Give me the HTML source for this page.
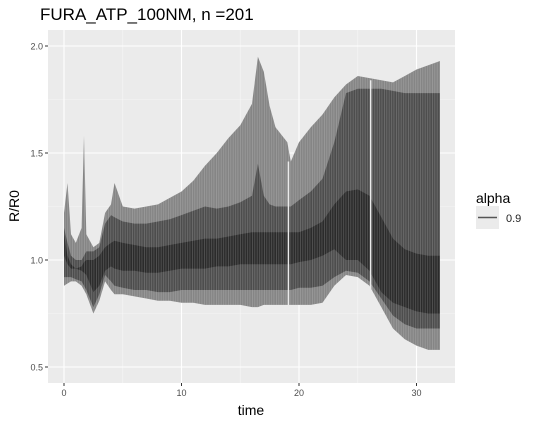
<!DOCTYPE html>
<html><head><meta charset="utf-8"><style>
body{margin:0;background:#fff;}
svg{display:block;font-family:"Liberation Sans",sans-serif;}
</style></head><body>
<svg id="chart" width="538" height="425" viewBox="0 0 538 425" xmlns="http://www.w3.org/2000/svg">
<text x="40" y="20" font-size="17" fill="#000">FURA_ATP_100NM, n =201</text>
<rect x="48" y="30" width="407" height="353" fill="#ebebeb"/>
<g id="grid"></g>
<g id="areas"></g>
<g id="axes"></g>
<text x="251" y="415" font-size="14" text-anchor="middle">time</text>
<text transform="translate(19,206) rotate(-90)" font-size="14" text-anchor="middle">R/R0</text>
<g>
<text x="476" y="203" font-size="14">alpha</text>
<rect x="476" y="206" width="23" height="23" fill="#ebebeb"/>
<line x1="478" y1="217.5" x2="497" y2="217.5" stroke="#555" stroke-width="1.5"/>
<text x="506" y="222" font-size="11" fill="#222">0.9</text>
</g>
</svg>
<script>
const times=[0,0.3,0.6,1,1.5,1.7,1.9,2.5,3,3.5,4,4.3,5,6,7,8,9,10,11,12,13,14,15,16,16.5,17,17.5,18,19,19.3,20,21,22,23,24,25,26,27,28,29,30,31,32];
const maxVals=[1.22,1.36,1.12,1.08,1.15,1.58,1.12,1.06,1.08,1.22,1.26,1.36,1.25,1.24,1.25,1.26,1.29,1.32,1.37,1.44,1.50,1.57,1.63,1.73,1.95,1.88,1.72,1.62,1.55,1.46,1.55,1.62,1.68,1.76,1.82,1.86,1.85,1.84,1.83,1.86,1.89,1.91,1.93];
const midTop=[1.15,1.08,1.02,1.0,1.0,1.02,1.04,1.04,1.06,1.17,1.21,1.2,1.18,1.17,1.17,1.18,1.19,1.21,1.23,1.25,1.24,1.25,1.27,1.30,1.45,1.30,1.26,1.25,1.25,1.25,1.28,1.32,1.38,1.55,1.78,1.80,1.80,1.80,1.79,1.78,1.78,1.78,1.78];
const innerTop=[1.12,1.02,0.98,0.96,0.97,0.99,1.0,1.0,1.02,1.06,1.08,1.09,1.08,1.07,1.06,1.06,1.07,1.08,1.09,1.10,1.10,1.11,1.12,1.13,1.13,1.13,1.13,1.13,1.13,1.13,1.13,1.15,1.18,1.26,1.32,1.33,1.30,1.20,1.10,1.05,1.03,1.02,1.02];
const innerBot=[1.02,0.98,0.96,0.96,0.95,0.94,0.93,0.85,0.88,0.95,0.97,0.96,0.95,0.95,0.94,0.94,0.95,0.96,0.96,0.96,0.97,0.97,0.98,0.98,0.98,0.98,0.98,0.98,0.98,0.98,0.99,1.0,1.02,1.05,1.0,1.0,0.95,0.85,0.8,0.78,0.76,0.75,0.75];
const midBot=[0.92,0.92,0.92,0.91,0.90,0.88,0.86,0.78,0.84,0.93,0.90,0.88,0.87,0.86,0.86,0.85,0.85,0.86,0.86,0.86,0.86,0.86,0.86,0.86,0.86,0.86,0.86,0.86,0.86,0.86,0.87,0.87,0.88,0.92,0.95,0.94,0.90,0.82,0.74,0.70,0.68,0.68,0.68];
const minVals=[0.88,0.89,0.90,0.90,0.88,0.86,0.84,0.75,0.81,0.90,0.86,0.84,0.84,0.83,0.82,0.81,0.81,0.80,0.80,0.79,0.79,0.79,0.79,0.78,0.78,0.79,0.79,0.79,0.79,0.79,0.79,0.79,0.80,0.88,0.93,0.92,0.88,0.78,0.68,0.63,0.60,0.58,0.58];
const gapTimes=[19.1,26.1];
const xTicks=[0,10,20,30];
const yTicks=[0.5,1.0,1.5,2.0];
const xMinor=[5,15,25];
const yMinor=[0.75,1.25,1.75];

const NS="http://www.w3.org/2000/svg";
const sx=t=>64+t*11.75;
const sy=v=>260-(v-1)*214;
function mk(tag,attrs,parent){const e=document.createElementNS(NS,tag);for(const k in attrs)e.setAttribute(k,attrs[k]);parent.appendChild(e);return e;}
const grid=document.getElementById('grid'),areas=document.getElementById('areas'),axes=document.getElementById('axes');
xMinor.forEach(t=>{const l=mk('line',{x1:sx(t),x2:sx(t),y1:30,y2:383,stroke:'#f6f6f6','stroke-width':0.6},grid);

});
yMinor.forEach(v=>{const l=mk('line',{x1:48,x2:455,y1:sy(v),y2:sy(v),stroke:'#f6f6f6','stroke-width':0.6},grid);

});
xTicks.forEach(t=>{const l=mk('line',{x1:sx(t),x2:sx(t),y1:30,y2:383,stroke:'#fff','stroke-width':1.1},grid);


const tk=mk('line',{x1:sx(t),x2:sx(t),y1:383,y2:386,stroke:'#333','stroke-width':1},axes);


const tx=mk('text',{x:sx(t),y:396,'font-size':9,'text-anchor':'middle',fill:'#4d4d4d'},axes);tx.textContent=t;

});
yTicks.forEach(v=>{const l=mk('line',{x1:48,x2:455,y1:sy(v),y2:sy(v),stroke:'#fff','stroke-width':1.1},grid);


const tk=mk('line',{x1:45,x2:48,y1:sy(v),y2:sy(v),stroke:'#333','stroke-width':1},axes);


const tx=mk('text',{x:43,y:sy(v)+3.5,'font-size':9,'text-anchor':'end',fill:'#4d4d4d'},axes);tx.textContent=v.toFixed(1);

});
function band(top,bot,fill,name){
  let d='M'+times.map((t,i)=>sx(t).toFixed(1)+','+sy(top[i]).toFixed(1)).join('L');
  for(let i=times.length-1;i>=0;i--)d+='L'+sx(times[i]).toFixed(1)+','+sy(bot[i]).toFixed(1);
  const p=mk('path',{d:d+'Z',fill:fill},areas);
  
  
}
band(maxVals,minVals,'#858585','trace-envelope-outer');
band(midTop,midBot,'#4d4d4d','trace-envelope-middle');
band(innerTop,innerBot,'#2b2b2b','trace-envelope-inner');
const defs=mk('defs',{},document.getElementById('chart'));
const pat=mk('pattern',{id:'stripes',width:2.4,height:10,patternUnits:'userSpaceOnUse'},defs);
mk('rect',{x:0,y:0,width:0.7,height:10,fill:'#ebebeb',opacity:0.25},pat);
band(maxVals,minVals,'url(#stripes)','trace-stripes');
gapTimes.forEach(t=>{
  let i=times.findIndex(x=>x>=t);
  const l=mk('line',{x1:sx(t),x2:sx(t),y1:sy(maxVals[i]),y2:sy(minVals[i]),stroke:'#ebebeb','stroke-width':1.5},areas);
  
  });
</script>
</body></html>
